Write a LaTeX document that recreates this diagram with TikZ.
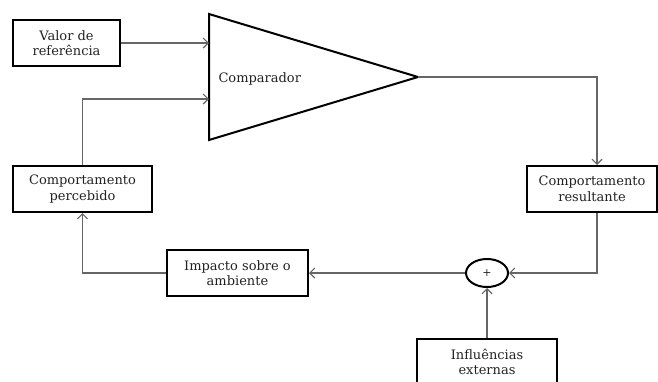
\documentclass[tikz,border=0pt]{standalone}
\usepackage{fontspec}
\setmainfont{DejaVu Serif}
\usetikzlibrary{arrows.meta,shapes.geometric}
\definecolor{lnk}{HTML}{666666}
\definecolor{txt}{HTML}{222222}
\tikzset{
  conn/.style={-{Straight Barb[length=5pt, width=10pt]}, line width=1.1pt, lnk},
  blk/.style={draw, line width=2pt, align=center, minimum height=46pt, inner sep=2pt,
    text=txt, font=\fontsize{13}{15.5}\selectfont},
  sumnode/.style={draw, ellipse, line width=2pt, minimum width=42pt, minimum height=28pt,
    inner sep=0pt, text=txt, font=\fontsize{11}{13}\selectfont},
  lab/.style={text=txt, font=\fontsize{13}{15.5}\selectfont},
}

\begin{document}
\begin{tikzpicture}[x=1pt,y=-1pt]
\useasboundingbox (0,0) rectangle (658,381);

% ===================== comparator ========================
\coordinate (cmpT) at (209,14);
\coordinate (cmpB) at (209,140);
\coordinate (tip) at (418,77);
\coordinate (in1) at (209,43);
\coordinate (in2) at (209,99);
\draw[line width=2pt, line join=miter] (cmpT) -- (tip) -- (cmpB) -- cycle;
\node[lab, anchor=west] (cmp) at (215,79) {Comparador};

% ===================== blocks ========================
\node[blk, minimum width=107pt] (valor) at (66.5,43) {Valor de\\referência};
\node[blk, minimum width=139pt] (perc) at (82.5,189) {Comportamento\\percebido};
\node[blk, minimum width=130pt] (res) at (592,189) {Comportamento\\resultante};
\node[blk, minimum width=141pt] (imp) at (237.5,273) {Impacto sobre o\\ambiente};
\node[sumnode] (plus) at (487,273) {+};
\node[blk, minimum width=140pt] (infl) at (487,362) {Influências\\externas};

% ===================== connectors ========================
\draw[conn] (valor.east) -- (in1);
\draw[conn] (perc.north) |- (in2);
\draw[conn] (tip) -| ([xshift=5pt]res.north);
\draw[conn] ([xshift=5pt]res.south) |- (plus.east);
\draw[conn] (plus.west) -- (imp.east);
\draw[conn] (imp.west) -| (perc.south);
\draw[conn] (infl.north) -- (plus.south);

\end{tikzpicture}
\end{document}
